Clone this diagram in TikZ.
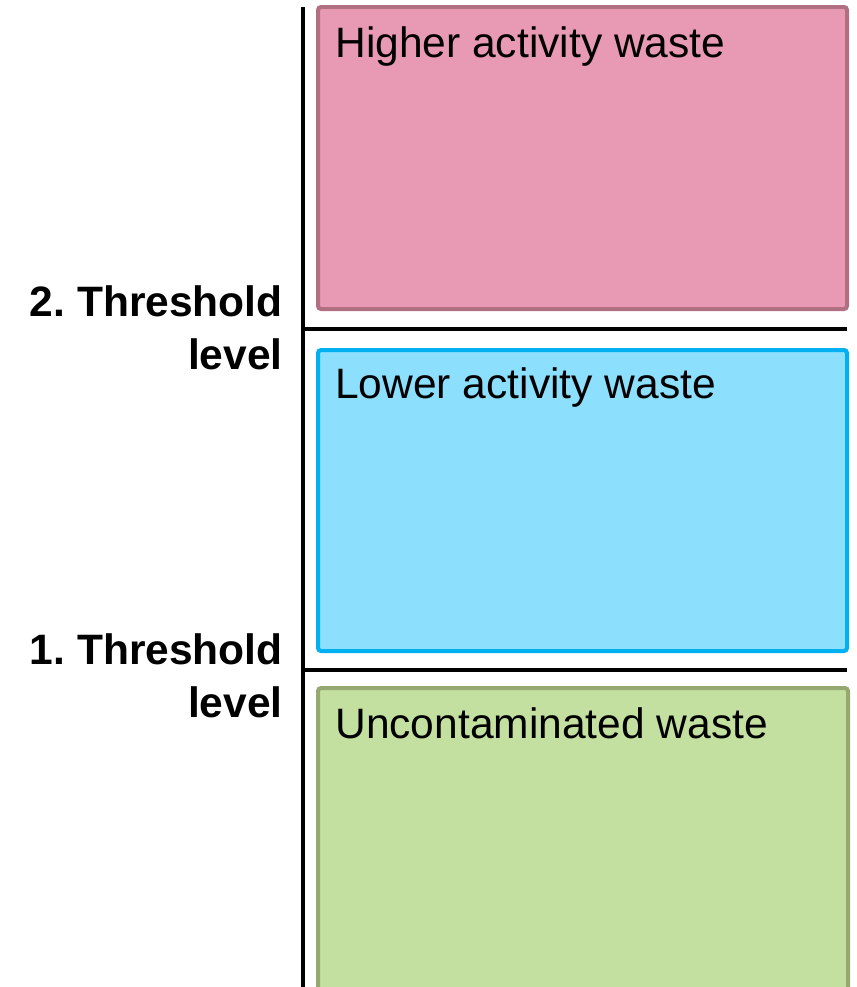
\documentclass[tikz,border=0pt]{standalone}
\usepackage{fontspec}
\setmainfont{Liberation Sans}
\frenchspacing
\usetikzlibrary{positioning}
\definecolor{highfill}{RGB}{232,153,180}
\definecolor{highdraw}{RGB}{176,112,130}
\definecolor{lowfill}{RGB}{140,224,254}
\definecolor{lowdraw}{RGB}{0,176,240}
\definecolor{nonefill}{RGB}{196,224,160}
\definecolor{nonedraw}{RGB}{148,168,112}

\begin{document}
\begin{tikzpicture}[
    x = 0.02cm, y = -0.02cm,
    wastebox/.style = {line width = 0.08cm, rounded corners = 0.06cm},
    high/.style = {wastebox, draw = highdraw, fill = highfill},
    low/.style = {wastebox, draw = lowdraw, fill = lowfill},
    clean/.style = {wastebox, draw = nonedraw, fill = nonefill},
    boxtext/.style = {anchor = base west, inner sep = 0pt, font = \fontsize{24.2}{30}\selectfont},
    level/.style = {anchor = base east, inner sep = 0pt, align = right, font = \fontsize{24.2}{30}\selectfont\bfseries},
    axis/.style = {line width = 0.085cm},
    ]
    \useasboundingbox (0,0) rectangle (856,987);

    % waste classes
    \filldraw[high] (318,7) rectangle (847,309);
    \filldraw[low] (318,350) rectangle (847,651);
    \filldraw[clean] (318,688) rectangle (848,1000);
    \node[boxtext] (H) at (335,57) {Higher activity waste};
    \node[boxtext] (L) at (335,398) {Lower activity waste};
    \node[boxtext] (U) at (335,738) {Uncontaminated waste};

    % axis and thresholds
    \coordinate (top) at (303,7);
    \coordinate (bottom) at (303,990);
    \coordinate (t2) at (303,329);
    \coordinate (t2end) at (847,329);
    \coordinate (t1) at (303,670);
    \coordinate (t1end) at (847,670);
    \draw[axis] (top) -- (bottom);
    \draw[axis] (t2) -- (t2end);
    \draw[axis] (t1) -- (t1end);
    \node[level] (T2) at (283,369) {2. Threshold\\level};
    \node[level] (T1) at (283,717) {1. Threshold\\level};
\end{tikzpicture}
\end{document}
